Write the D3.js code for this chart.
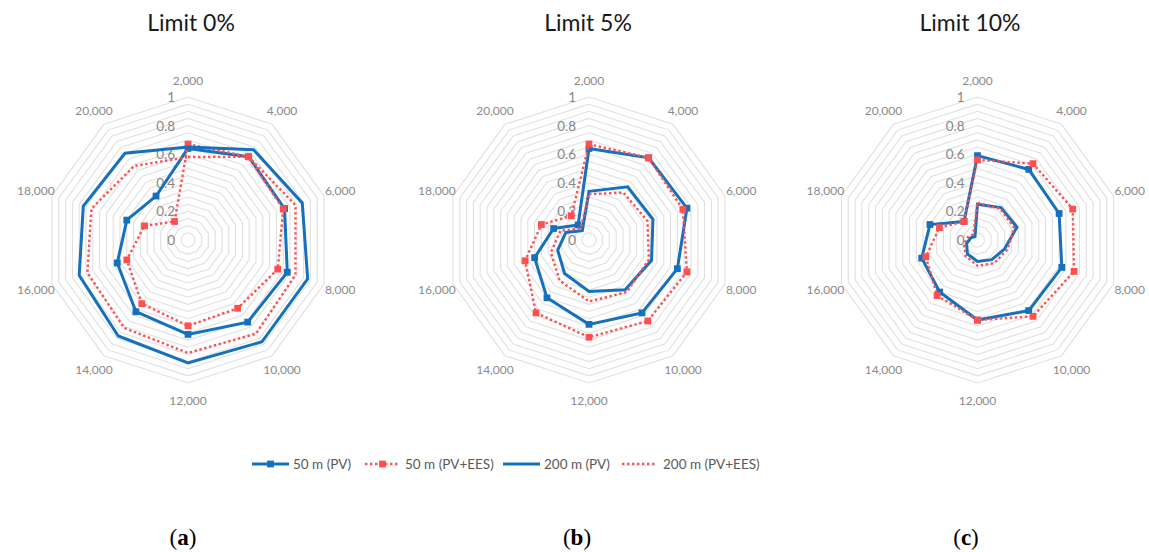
<!DOCTYPE html>
<html>
<head>
<meta charset="utf-8">
<script src="https://cdn.jsdelivr.net/npm/d3@7"></script>
<style>
  body { margin: 0; background: #fff; }
  svg { display: block; }
</style>
</head>
<body>
<svg id="chart" width="1149" height="552"></svg>
<script>
// Spoke labels (grid size) and radial tick labels
const axisLabels = ["2,000", "4,000", "6,000", "8,000", "10,000", "12,000", "14,000", "16,000", "18,000", "20,000"];
const tickLabels = ["0", "0.2", "0.4", "0.6", "0.8", "1"];
const panelTitles = ["Limit 0%", "Limit 5%", "Limit 10%"];
const panelTags = ["a", "b", "c"];
const seriesNames = ["50 m (PV)", "50 m (PV+EES)", "200 m (PV)", "200 m (PV+EES)"];

// Limit 0%
const pv50_a   = [0.64, 0.72, 0.71, 0.73, 0.71, 0.66, 0.62, 0.52, 0.45, 0.38];
const ees50_a  = [0.67, 0.72, 0.70, 0.66, 0.59, 0.60, 0.55, 0.45, 0.32, 0.16];
const pv200_a  = [0.65, 0.78, 0.84, 0.88, 0.88, 0.86, 0.83, 0.80, 0.77, 0.75];
const ees200_a = [0.58, 0.72, 0.79, 0.79, 0.81, 0.79, 0.76, 0.74, 0.71, 0.64];

// Limit 5%
const pv50_b   = [0.64, 0.71, 0.72, 0.65, 0.63, 0.59, 0.50, 0.40, 0.26, 0.13];
const ees50_b  = [0.67, 0.71, 0.69, 0.72, 0.70, 0.68, 0.63, 0.47, 0.35, 0.21];
const pv200_b  = [0.34, 0.46, 0.47, 0.46, 0.43, 0.36, 0.29, 0.23, 0.17, 0.08];
const ees200_b = [0.32, 0.41, 0.43, 0.44, 0.45, 0.43, 0.35, 0.28, 0.21, 0.10];

// Limit 10%
const pv50_c   = [0.59, 0.61, 0.60, 0.62, 0.61, 0.56, 0.45, 0.41, 0.35, 0.16];
const ees50_c  = [0.56, 0.66, 0.70, 0.71, 0.66, 0.56, 0.48, 0.38, 0.28, 0.16];
const pv200_c  = [0.25, 0.28, 0.29, 0.20, 0.17, 0.15, 0.12, 0.08, 0.05, 0.03];
const ees200_c = [0.26, 0.27, 0.27, 0.22, 0.20, 0.18, 0.14, 0.10, 0.07, 0.05];

const panels = [
  [pv50_a, ees50_a, pv200_a, ees200_a],
  [pv50_b, ees50_b, pv200_b, ees200_b],
  [pv50_c, ees50_c, pv200_c, ees200_c]
];

// Series styling
const BLUE = "#1570bd";
const RED = "#ff4f4f";
const styles = [
  { color: BLUE, width: 3, dash: null, marker: true },
  { color: RED, width: 2.4, dash: "2.4,2.6", marker: true },
  { color: BLUE, width: 3, dash: null, marker: false },
  { color: RED, width: 2.4, dash: "2.4,2.6", marker: false }
];

const svg = d3.select("#chart");
const R = 143;
const centersX = [188, 589, 977.5];
const centerY = 240;

const rScale = d3.scaleLinear().domain([0, 1]).range([0, R]);
const aScale = d3.scaleLinear().domain([0, axisLabels.length]).range([0, 2 * Math.PI]);

const radial = d3.lineRadial()
  .angle((d, i) => aScale(i))
  .radius(d => rScale(d))
  .curve(d3.curveLinearClosed);

const ringLevels = d3.range(1, 21).map(k => k / 20);
const square = d3.symbol().type(d3.symbolSquare).size(46);

panels.forEach((series, p) => {
  const g = svg.append("g").attr("transform", `translate(${centersX[p]},${centerY})`);

  // concentric grid polygons
  g.append("g").selectAll("path")
    .data(ringLevels)
    .join("path")
    .attr("d", v => radial(axisLabels.map(() => v)))
    .attr("fill", "none")
    .attr("stroke", "#e0e0e0")
    .attr("stroke-width", 1.1);

  // radial tick labels along the vertical spoke
  g.append("g").selectAll("text")
    .data(tickLabels)
    .join("text")
    .attr("x", -13)
    .attr("y", d => -rScale(+d))
    .attr("text-anchor", "end")
    .attr("dominant-baseline", "central")
    .attr("font-family", "Lato, 'Open Sans', sans-serif")
    .attr("font-size", 13.5)
    .attr("fill", "#888")
    .text(d => d);

  // spoke labels
  g.append("g").selectAll("text")
    .data(axisLabels)
    .join("text")
    .attr("transform", (d, i) => {
      const [x, y] = d3.pointRadial(aScale(i), R + 17);
      return `translate(${x},${y})`;
    })
    .attr("text-anchor", "middle")
    .attr("dominant-baseline", "central")
    .attr("font-family", "Lato, 'Open Sans', sans-serif")
    .attr("font-size", 12)
    .attr("fill", "#8a8a8a")
    .text(d => d);

  // series
  series.forEach((vals, s) => {
    const st = styles[s];
    const sg = g.append("g");
    sg.append("path")
      .attr("d", radial(vals))
      .attr("fill", "none")
      .attr("stroke", st.color)
      .attr("stroke-width", st.width)
      .attr("stroke-linejoin", "miter")
      .attr("stroke-dasharray", st.dash);
    if (st.marker) {
      sg.selectAll("path.mk")
        .data(vals)
        .join("path")
        .attr("class", "mk")
        .attr("transform", (d, i) => {
          const [x, y] = d3.pointRadial(aScale(i), rScale(d));
          return `translate(${x},${y})`;
        })
        .attr("d", square)
        .attr("fill", st.color);
    }
  });

  // panel title
  svg.append("text")
    .attr("x", [191, 588, 970][p])
    .attr("y", 31)
    .attr("text-anchor", "middle")
    .attr("font-family", "Lato, 'Open Sans', sans-serif")
    .attr("font-size", 23)
    .attr("fill", "#1a1a1a")
    .text(panelTitles[p]);

  // sub-figure tag
  const tag = svg.append("text")
    .attr("x", [183, 577, 966][p])
    .attr("y", 545)
    .attr("text-anchor", "middle")
    .attr("font-family", "'Liberation Serif', serif")
    .attr("font-size", 23)
    .attr("fill", "#000");
  tag.append("tspan").text("(");
  tag.append("tspan").attr("font-weight", "bold").text(panelTags[p]);
  tag.append("tspan").text(")");
});

// legend
const legendY = 464;
const legendX = [252, 365, 503, 622];
const legendLen = [37, 35, 37, 35];
const legendTextX = [293, 405, 544, 663];
const lg = svg.append("g");
seriesNames.forEach((name, s) => {
  const st = styles[s];
  lg.append("line")
    .attr("x1", legendX[s]).attr("x2", legendX[s] + legendLen[s])
    .attr("y1", legendY).attr("y2", legendY)
    .attr("stroke", st.color)
    .attr("stroke-width", st.width)
    .attr("stroke-dasharray", st.dash);
  if (st.marker) {
    lg.append("path")
      .attr("transform", `translate(${legendX[s] + legendLen[s] / 2},${legendY})`)
      .attr("d", square)
      .attr("fill", st.color);
  }
  lg.append("text")
    .attr("x", legendTextX[s])
    .attr("y", legendY)
    .attr("dominant-baseline", "central")
    .attr("font-family", "Lato, 'Open Sans', sans-serif")
    .attr("font-size", 13.5)
    .attr("fill", "#595959")
    .text(name);
});
</script>
</body>
</html>
